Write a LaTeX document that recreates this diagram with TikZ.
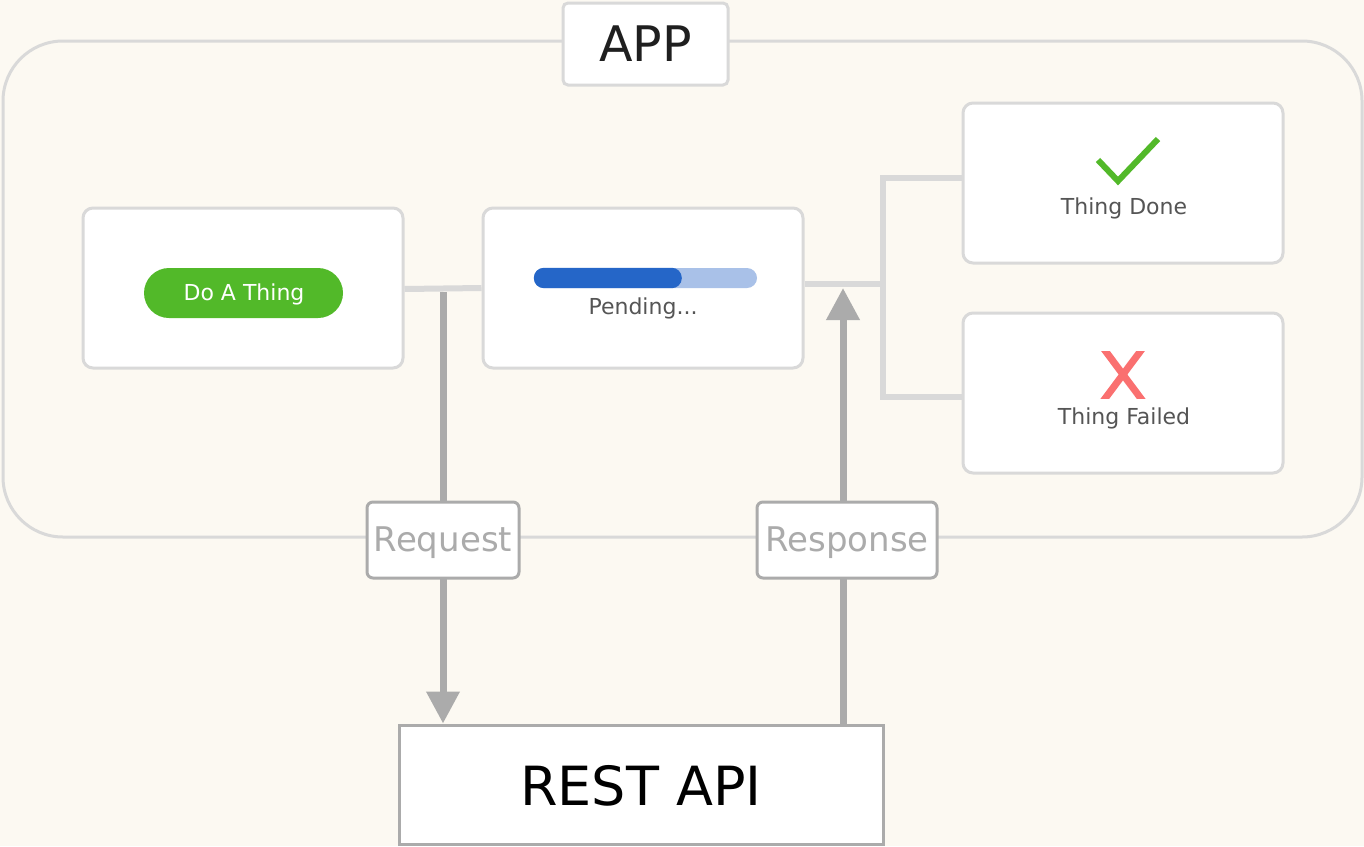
\documentclass[tikz,border=0pt]{standalone}
\usepackage{fontspec}
\setmainfont{DejaVu Sans}
\usetikzlibrary{arrows.meta}
\definecolor{bgc}{HTML}{FCF9F2}
\definecolor{lgray}{HTML}{D9D9D9}
\definecolor{dgray}{HTML}{ABABAB}
\definecolor{txt}{HTML}{555555}
\definecolor{okgreen}{HTML}{52B929}
\definecolor{barblue}{HTML}{2566C8}
\definecolor{barlight}{HTML}{A9C1E8}
\definecolor{failred}{HTML}{FA7070}
\pgfdeclarelayer{back}
\pgfdeclarelayer{lines}
\pgfsetlayers{back,lines,main}
\begin{document}
\begin{tikzpicture}[x=1pt,y=-1pt,
  card/.style={draw=lgray, line width=3pt, fill=white, rounded corners=10pt,
    minimum width=320pt, minimum height=160pt, inner sep=0pt},
  cardtext/.style={text=txt, font=\fontsize{22}{26}\selectfont, inner sep=0pt},
  tagbox/.style={draw=dgray, line width=3pt, fill=white, rounded corners=6pt,
    minimum height=76pt, inner sep=0pt, text=dgray, font=\fontsize{34}{40}\selectfont},
  gline/.style={draw=lgray, line width=6pt},
  darr/.style={draw=dgray, line width=7pt, -{Triangle[width=32pt,length=32pt]}}
]
\useasboundingbox (0,0) rectangle (1364,846);
\begin{pgfonlayer}{back}
  \fill[bgc] (0,0) rectangle (1364,846);
  \node[draw=lgray, line width=3pt, rounded corners=60pt, minimum width=1359pt,
        minimum height=496pt, inner sep=0pt] (frame) at (682.5,289) {};
\end{pgfonlayer}

% title
\node[draw=lgray, line width=3pt, fill=white, rounded corners=5pt, minimum width=165pt,
      minimum height=82pt, inner sep=0pt, font=\fontsize{49}{58}\selectfont, text=black!88]
      (app) at (645.5,44) {APP};

% cards
\node[card] (do) at (243,288) {};
\node[card] (pend) at (643,288) {};
\node[card] (done) at (1123,183) {};
\node[card] (failed) at (1123,393) {};

% button
\node[fill=okgreen, rounded corners=25pt, minimum width=199pt, minimum height=50pt,
      inner sep=0pt, text=white, font=\fontsize{22}{26}\selectfont] (btn) at (243.5,293) {};
\node[text=white, font=\fontsize{22}{26}\selectfont, inner sep=0pt] (btntext) at (244,294.5) {Do A Thing};

% progress bar
\node[fill=barlight, rounded corners=10pt, minimum width=223pt, minimum height=20pt,
      inner sep=0pt] (bar) at (645.5,278) {};
\fill[barblue, rounded corners=10pt] (bar.north west) rectangle ([xshift=148pt]bar.south west);
\node[cardtext] (pendtext) at (643,308.5) {Pending...};

% done
\draw[okgreen, line width=6pt] (1098,160) -- (1118,181) -- (1158,139);
\node[cardtext] (donetext) at (1124,208.5) {Thing Done};

% failed
\begin{scope}
  \clip (1100,351) rectangle (1146,398);
  \draw[failred, line width=7pt] (1098,341) -- (1148,408) (1148,341) -- (1098,408);
\end{scope}
\node[cardtext] (failtext) at (1124,418.5) {Thing Failed};

% API
\node[draw=dgray, line width=3pt, fill=white, minimum width=484pt, minimum height=119pt,
      inner sep=0pt] (api) at (641,784.5) {};
\node[font=\fontsize{54}{64}\selectfont, text=black, inner sep=0pt] (apitext) at (641,786) {REST API};

% labels
\node[tagbox, minimum width=152pt] (req) at (443,540) {};
\node[text=dgray, font=\fontsize{34}{40}\selectfont, inner sep=0pt] (reqtext) at (443,542.5) {Request};
\node[tagbox, minimum width=180pt] (resp) at (847,540) {};
\node[text=dgray, font=\fontsize{34}{40}\selectfont, inner sep=0pt] (resptext) at (847,542.5) {Response};

% connectors
\coordinate (jn) at (883,284);
\coordinate (reqtop) at (443,292);
\coordinate (resptip) at (843,288);
\begin{pgfonlayer}{lines}
  \draw[gline] ([yshift=-1pt]do.east) -- (pend.west);
  \draw[gline] ([yshift=4pt]pend.east) -- (jn);
  \draw[gline] ([yshift=5pt]done.west) -| (jn) |- ([yshift=-4pt]failed.west);
  \draw[darr] (reqtop) -- (reqtop |- api.north);
  \draw[darr] (resptip |- api.north) -- (resptip);
\end{pgfonlayer}
\end{tikzpicture}
\end{document}
